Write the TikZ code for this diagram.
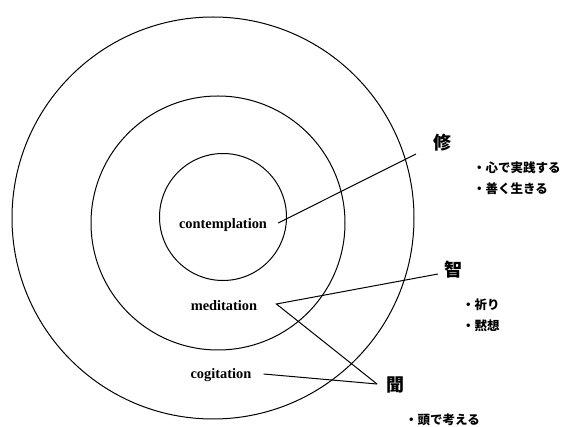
\documentclass[tikz,border=0pt]{standalone}
\usepackage{fontspec}
\setmainfont{Liberation Serif}
\newfontfamily\jp{Noto Sans CJK JP}
\usetikzlibrary{positioning}

\begin{document}
\begin{tikzpicture}[
    x=1pt, y=-1pt,
    ring/.style={circle, draw=black, line width=1pt, inner sep=0pt},
    term/.style={font=\fontsize{14.4}{16}\selectfont\bfseries, inner sep=1pt},
    kanji/.style={font=\fontsize{18}{20}\selectfont\jp\bfseries, inner sep=0pt},
    item/.style={font=\fontsize{12.5}{14}\selectfont\jp\bfseries, anchor=west, inner sep=0pt},
    link/.style={line width=1pt}
]

\useasboundingbox (0,0) rectangle (563,427);

% three rings
\node[ring, minimum size=402pt] (outer) at (213,218) {};
\node[ring, minimum size=254pt] (middle) at (218,223) {};
\node[ring, minimum size=127pt] (inner) at (223,217) {};

\node[term] (contemplation) at (223,225) {contemplation};
\node[term] (meditation) at (224,306) {meditation};
\node[term] (cogitation) at (221,375) {cogitation};

\node[kanji] (shu) at (442,143) {修};
\node[kanji] (chi) at (453,270) {智};
\node[kanji] (mon) at (395,385) {聞};

\node[item] (shu1) at (473,168) {・心で実践する};
\node[item, below=8pt of shu1.south west, anchor=north west] (shu2) {・善く生きる};
\node[item] (chi1) at (462,305) {・祈り};
\node[item, below=8pt of chi1.south west, anchor=north west] (chi2) {・黙想};
\node[item] (mon1) at (405,420) {・頭で考える};

\draw[link] ([xshift=10pt,yshift=2pt]contemplation.east) -- ([xshift=-26pt,yshift=-11pt]shu.center);
\draw[link] ([xshift=-15pt,yshift=-4pt]chi.center) -- ([xshift=18pt,yshift=2pt]meditation.east)
    -- ([xshift=-18pt,yshift=1pt]mon.center);
\draw[link] ([xshift=11pt,yshift=1pt]cogitation.east) -- ([xshift=-18pt,yshift=1pt]mon.center);

\end{tikzpicture}
\end{document}
